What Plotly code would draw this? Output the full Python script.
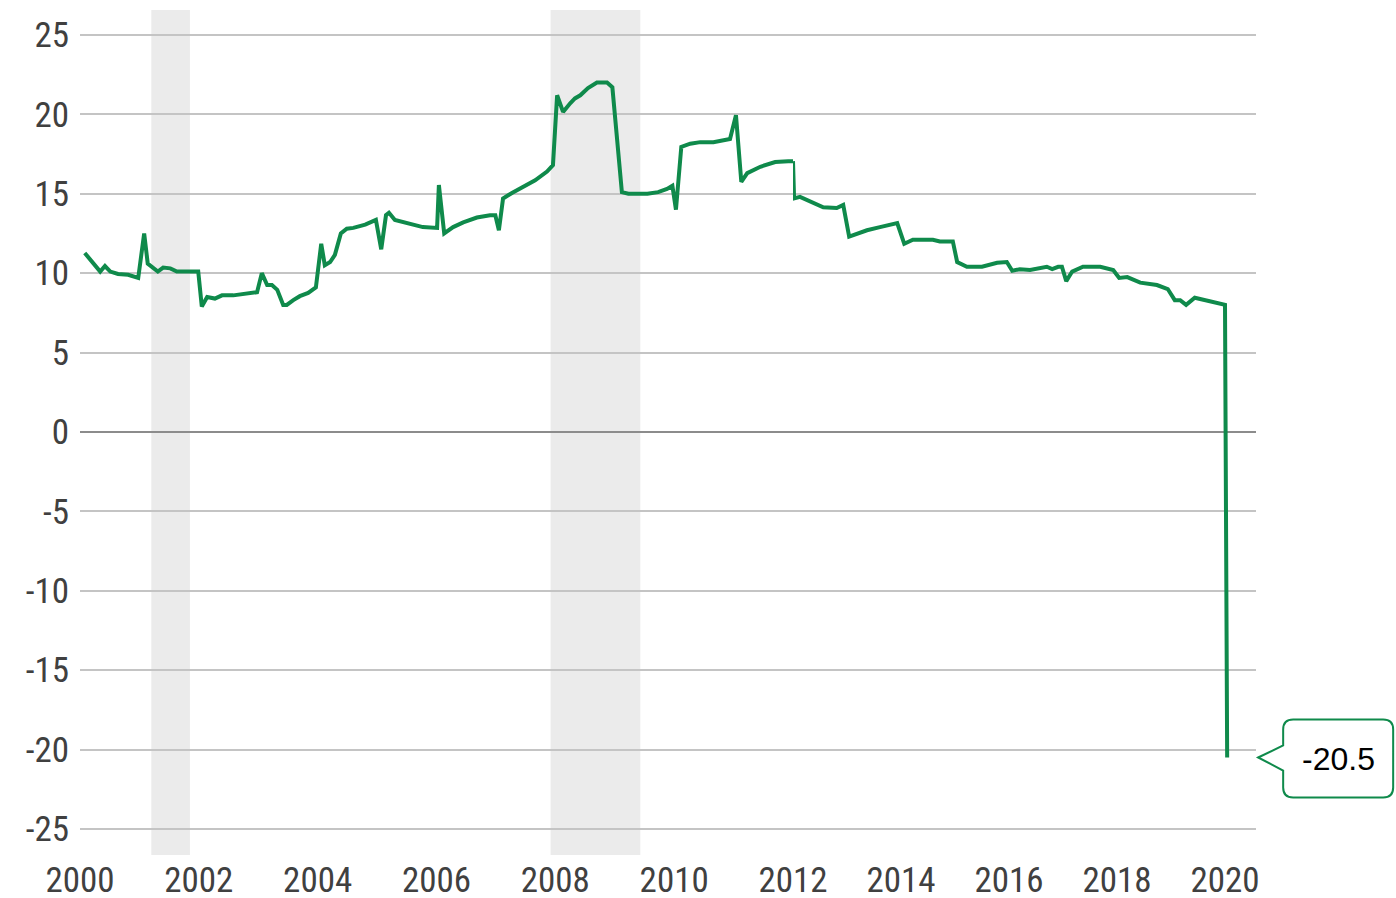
import plotly.graph_objects as go

# ---- data (decimal year, value) ----
dates = [2000.08, 2000.29, 2000.34, 2000.42, 2000.51, 2000.64, 2000.81, 2000.98, 2001.08, 2001.14,
         2001.31, 2001.40, 2001.52, 2001.63, 2001.99, 2002.05, 2002.14, 2002.27, 2002.39, 2002.58,
         2002.81, 2002.98, 2003.06, 2003.15, 2003.23, 2003.32, 2003.42, 2003.48, 2003.59, 2003.70,
         2003.84, 2003.97, 2004.06, 2004.12, 2004.21, 2004.29, 2004.39, 2004.49, 2004.60, 2004.80,
         2004.98, 2005.07, 2005.15, 2005.20, 2005.30, 2005.61, 2005.77, 2006.01, 2006.04, 2006.13,
         2006.28, 2006.45, 2006.68, 2006.90, 2006.99, 2007.05, 2007.12, 2007.27, 2007.46, 2007.66,
         2007.86, 2007.96, 2008.03, 2008.13, 2008.25, 2008.33, 2008.42, 2008.55, 2008.70, 2008.87,
         2008.96, 2009.12, 2009.23, 2009.55, 2009.73, 2009.88, 2009.97, 2010.03, 2010.12, 2010.27,
         2010.44, 2010.66, 2010.94, 2011.04, 2011.13, 2011.23, 2011.45, 2011.70, 2011.92, 2012.00,
         2012.02, 2012.13, 2012.31, 2012.56, 2012.81, 2012.93, 2013.04, 2013.37, 2013.61, 2013.93,
         2014.06, 2014.22, 2014.59, 2014.72, 2014.96, 2015.04, 2015.22, 2015.50, 2015.78, 2015.96,
         2016.06, 2016.20, 2016.39, 2016.70, 2016.80, 2016.91, 2016.98, 2017.06, 2017.17, 2017.37,
         2017.69, 2017.93, 2018.04, 2018.19, 2018.43, 2018.74, 2018.94, 2019.07, 2019.17, 2019.28,
         2019.44, 2019.67, 2019.85, 2020.00, 2020.04]
values = [11.27, 10.3, 10.1, 10.45, 10.1, 9.95, 9.9, 9.7, 12.5, 10.6,
          10.1, 10.35, 10.3, 10.1, 10.1, 7.9, 8.5, 8.4, 8.6, 8.6,
          8.75, 8.8, 10.0, 9.25, 9.25, 8.95, 8.0, 8.0, 8.3, 8.55,
          8.75, 9.1, 11.85, 10.5, 10.7, 11.15, 12.5, 12.8, 12.85, 13.05,
          13.35, 11.5, 13.65, 13.8, 13.35, 13.05, 12.9, 12.85, 15.55, 12.5,
          12.9, 13.2, 13.5, 13.65, 13.65, 12.7, 14.7, 15.05, 15.45, 15.85,
          16.4, 16.8, 21.2, 20.15, 20.7, 21.0, 21.2, 21.65, 22.0, 22.0,
          21.7, 15.1, 15.0, 15.0, 15.1, 15.3, 15.5, 14.0, 17.95, 18.15,
          18.25, 18.25, 18.45, 19.95, 15.75, 16.3, 16.7, 17.0, 17.05, 17.05,
          14.7, 14.8, 14.5, 14.15, 14.1, 14.3, 12.3, 12.7, 12.9, 13.15,
          11.85, 12.1, 12.1, 12.0, 12.0, 10.7, 10.4, 10.4, 10.65, 10.7,
          10.15, 10.25, 10.2, 10.4, 10.25, 10.4, 10.4, 9.5, 10.1, 10.4,
          10.4, 10.2, 9.7, 9.75, 9.4, 9.25, 9.0, 8.3, 8.3, 8.0,
          8.45, 8.25, 8.1, 8.0, -20.5]

recessions = [(2001.2, 2001.85), (2007.92, 2009.43)]
ticks_a = [2000, 2002, 2004, 2006, 2008, 2010, 2012]
ticks_b = [2014, 2016, 2018, 2020]
y_ticks = [25, 20, 15, 10, 5, 0, -5, -10, -15, -20, -25]

# ---- style ----
GREEN = "#0f8a4b"
TICKFONT = dict(family="Liberation Sans Narrow, Arial Narrow, Roboto Condensed, sans-serif",
                size=35, color="#404040")
SPLIT = 2012.0
XR1 = [2000, SPLIT]
XR2 = [SPLIT, 2020.574]
YR = [-26.64, 26.57]
D1 = 713 / 1176

xa = [d for d in dates if d <= SPLIT]
ya = values[:len(xa)]
idx_b = [i for i, d in enumerate(dates) if d >= SPLIT]
xb = [dates[i] for i in idx_b]
yb = [values[i] for i in idx_b]

fig = go.Figure()
fig.add_trace(go.Scatter(x=xa, y=ya, mode="lines", xaxis="x", yaxis="y",
                         line=dict(color=GREEN, width=4), showlegend=False, hoverinfo="skip"))
fig.add_trace(go.Scatter(x=xb, y=yb, mode="lines", xaxis="x2", yaxis="y",
                         line=dict(color=GREEN, width=4), showlegend=False, hoverinfo="skip"))

for r0, r1 in recessions:
    fig.add_shape(type="rect", xref="x", yref="paper", x0=r0, x1=r1, y0=0, y1=1,
                  fillcolor="#ebebeb", line_width=0, layer="below")

# callout for last value
last_x, last_y = dates[-1], values[-1]
ax_frac = (last_x - XR2[0]) / (XR2[1] - XR2[0])
ay_frac = (last_y - YR[0]) / (YR[1] - YR[0])
path = ("M 31,0 L 56,12 L 56,28 Q 56,38 66,38 L 156,38 Q 166,38 166,28 "
        "L 166,-30 Q 166,-40 156,-40 L 66,-40 Q 56,-40 56,-30 L 56,-13 Z")
fig.add_shape(type="path", xref="x2 domain", yref="y domain",
              xsizemode="pixel", ysizemode="pixel", xanchor=ax_frac, yanchor=ay_frac,
              path=path, fillcolor="white", line=dict(color=GREEN, width=2), layer="above")
fig.add_annotation(x=last_x, y=last_y, xref="x2", yref="y", text=f"{last_y}",
                   showarrow=False, xshift=111, yshift=-2,
                   font=dict(family="Liberation Sans, Arial, sans-serif", size=32, color="#000000"))

fig.update_layout(
    width=1396, height=898,
    margin=dict(l=80, r=140, t=10, b=43, autoexpand=False),
    paper_bgcolor="white", plot_bgcolor="white",
    xaxis=dict(domain=[0, D1], range=XR1, tickmode="array", tickvals=ticks_a,
               ticktext=[str(t) for t in ticks_a], showgrid=False, zeroline=False,
               showline=False, ticks="", tickfont=TICKFONT, anchor="y", ticklabelstandoff=1,
               automargin=False),
    xaxis2=dict(domain=[D1, 1], range=XR2, tickmode="array", tickvals=ticks_b,
                ticktext=[str(t) for t in ticks_b], showgrid=False, zeroline=False,
                showline=False, ticks="", tickfont=TICKFONT, anchor="y", ticklabelstandoff=1,
                automargin=False),
    yaxis=dict(range=YR, tickmode="array", tickvals=y_ticks,
               ticktext=[str(t) for t in y_ticks], showgrid=True, gridcolor="#c4c4c4",
               gridwidth=2, zeroline=True, zerolinecolor="#8c8c8c", zerolinewidth=2,
               showline=False, ticks="", tickfont=TICKFONT, anchor="x", ticklabelstandoff=10,
               automargin=False),
)

# remove the default page margin so the figure fills the window exactly
fig.write_html("out.html", config={"displayModeBar": False},
               post_script="document.body.style.margin='0';document.body.style.overflow='hidden';")
